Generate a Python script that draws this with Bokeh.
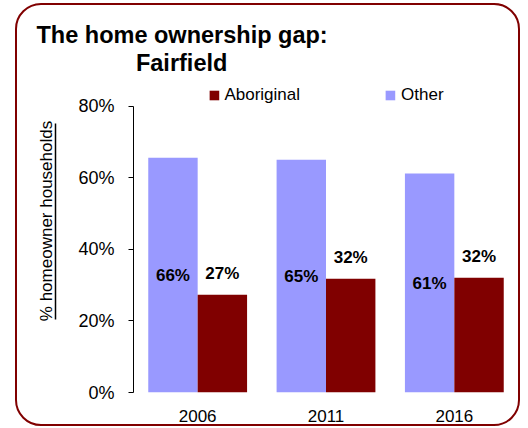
from bokeh.plotting import figure
from bokeh.models import (FactorRange, Range1d, FixedTicker, PrintfTickFormatter, Legend,
                          LegendItem, Title, Label, LinearAxis, ColumnDataSource)
from bokeh.transform import dodge
from bokeh.embed import file_html
from bokeh.resources import INLINE
from bokeh.core.properties import value

# ---- data ----
years = ["2006", "2011", "2016"]
other = [65.6, 65.1, 61.2]
aboriginal = [27.3, 31.8, 32.1]
y_ticks = [0, 20, 40, 60, 80]
title_lines = ["The home ownership gap:", "Fairfield"]
series_names = ["Aboriginal", "Other"]
y_title = "% homeowner households"

FONT = "Liberation Sans"
OTHER_C = "#9999FF"
ABO_C = "#800000"

src = ColumnDataSource(dict(
    year=years, other=other, aboriginal=aboriginal,
    other_mid=[v / 2 for v in other],
    other_lbl=[f"{round(v)}%" for v in other],
    abo_lbl=[f"{round(v)}%" for v in aboriginal],
))

p = figure(width=501, height=419, x_range=FactorRange(*years, range_padding=0),
           y_range=Range1d(0, 95.9), output_backend="svg", toolbar_location=None,
           min_border_left=116, min_border_right=0, min_border_top=44, min_border_bottom=31)
p.margin = (5, 0, 0, 17)
p.styles = {"outline": "2.5px solid #800000", "outline-offset": "0px",
            "border-radius": "24px"}
p.outline_line_color = None
p.xgrid.grid_line_color = None
p.ygrid.grid_line_color = None
p.background_fill_color = None
p.border_fill_color = None

r_other = p.vbar(x=dodge("year", -0.1925, range=p.x_range), top="other", width=0.385,
                 source=src, fill_color=OTHER_C, line_color=None)
r_abo = p.vbar(x=dodge("year", 0.1925, range=p.x_range), top="aboriginal", width=0.385,
               source=src, fill_color=ABO_C, line_color=None)

p.text(x=dodge("year", -0.1925, range=p.x_range), y="other_mid", text="other_lbl",
       text_align="center", text_baseline="middle", text_font=value(FONT),
       text_font_style="bold", text_font_size="17px", text_color="black", source=src)
p.text(x=dodge("year", 0.1925, range=p.x_range), y="aboriginal", text="abo_lbl",
       y_offset=-21, text_align="center", text_baseline="middle", text_font=value(FONT),
       text_font_style="bold", text_font_size="17px", text_color="black", source=src)

# x axis
xa = p.xaxis[0]
xa.axis_line_color = None
xa.major_tick_line_color = None
xa.minor_tick_line_color = None
xa.major_label_text_font = FONT
xa.major_label_text_font_size = "17px"
xa.major_label_text_color = "black"
xa.major_label_standoff = 11

# y axis (line limited to 0-80, with an invisible spacer label)
ya = p.yaxis[0]
ya.ticker = FixedTicker(ticks=y_ticks)
ya.formatter = PrintfTickFormatter(format="%d%%")
ya.bounds = (0, 80)
ya.axis_line_color = "black"
ya.major_tick_line_color = "black"
ya.major_tick_out = 5
ya.major_tick_in = 0
ya.minor_tick_line_color = None
ya.major_label_text_font = FONT
ya.major_label_text_font_size = "18px"
ya.major_label_text_color = "black"
ya.major_label_standoff = 14
ya.axis_label = " "
ya.axis_label_text_font_size = "1px"
ya.axis_label_standoff = 16

# underlined y title: a bounded bare axis whose line is the underline
ua = LinearAxis(bounds=(20.3, 75.3), ticker=FixedTicker(ticks=[]),
                major_tick_out=0, major_tick_in=0, major_label_standoff=0,
                minor_tick_line_color=None, major_tick_line_color=None,
                axis_line_color="black", axis_line_width=1.5,
                axis_label=y_title, axis_label_standoff=0,
                axis_label_text_font=FONT, axis_label_text_font_size="17px",
                axis_label_text_font_style="normal", axis_label_text_color="black")
p.add_layout(ua, "left")

# legend inside the (extended) frame
legend = Legend(items=[LegendItem(label=series_names[0], renderers=[r_abo]),
                       LegendItem(label=series_names[1], renderers=[r_other])],
                orientation="horizontal", location="top_center", padding=0, margin=36,
                spacing=84, glyph_width=12, glyph_height=12, label_standoff=5,
                label_text_font=FONT, label_text_font_size="17px",
                label_text_color="black",
                border_line_color=None, background_fill_alpha=0)
p.add_layout(legend, "center")

# title: first line in the top panel, second line centred under it
p.add_layout(Title(text=title_lines[0], align="left", offset=-97, standoff=4,
                   text_font=FONT, text_font_style="bold", text_font_size="23.5px",
                   text_color="black"), "above")
p.add_layout(Label(x=0.375, y=92.0, text=title_lines[1], text_align="center",
                   text_baseline="alphabetic", text_font=FONT, text_font_style="bold",
                   text_font_size="23.5px", text_color="black"))

open("out.html", "w").write(file_html(p, INLINE))
